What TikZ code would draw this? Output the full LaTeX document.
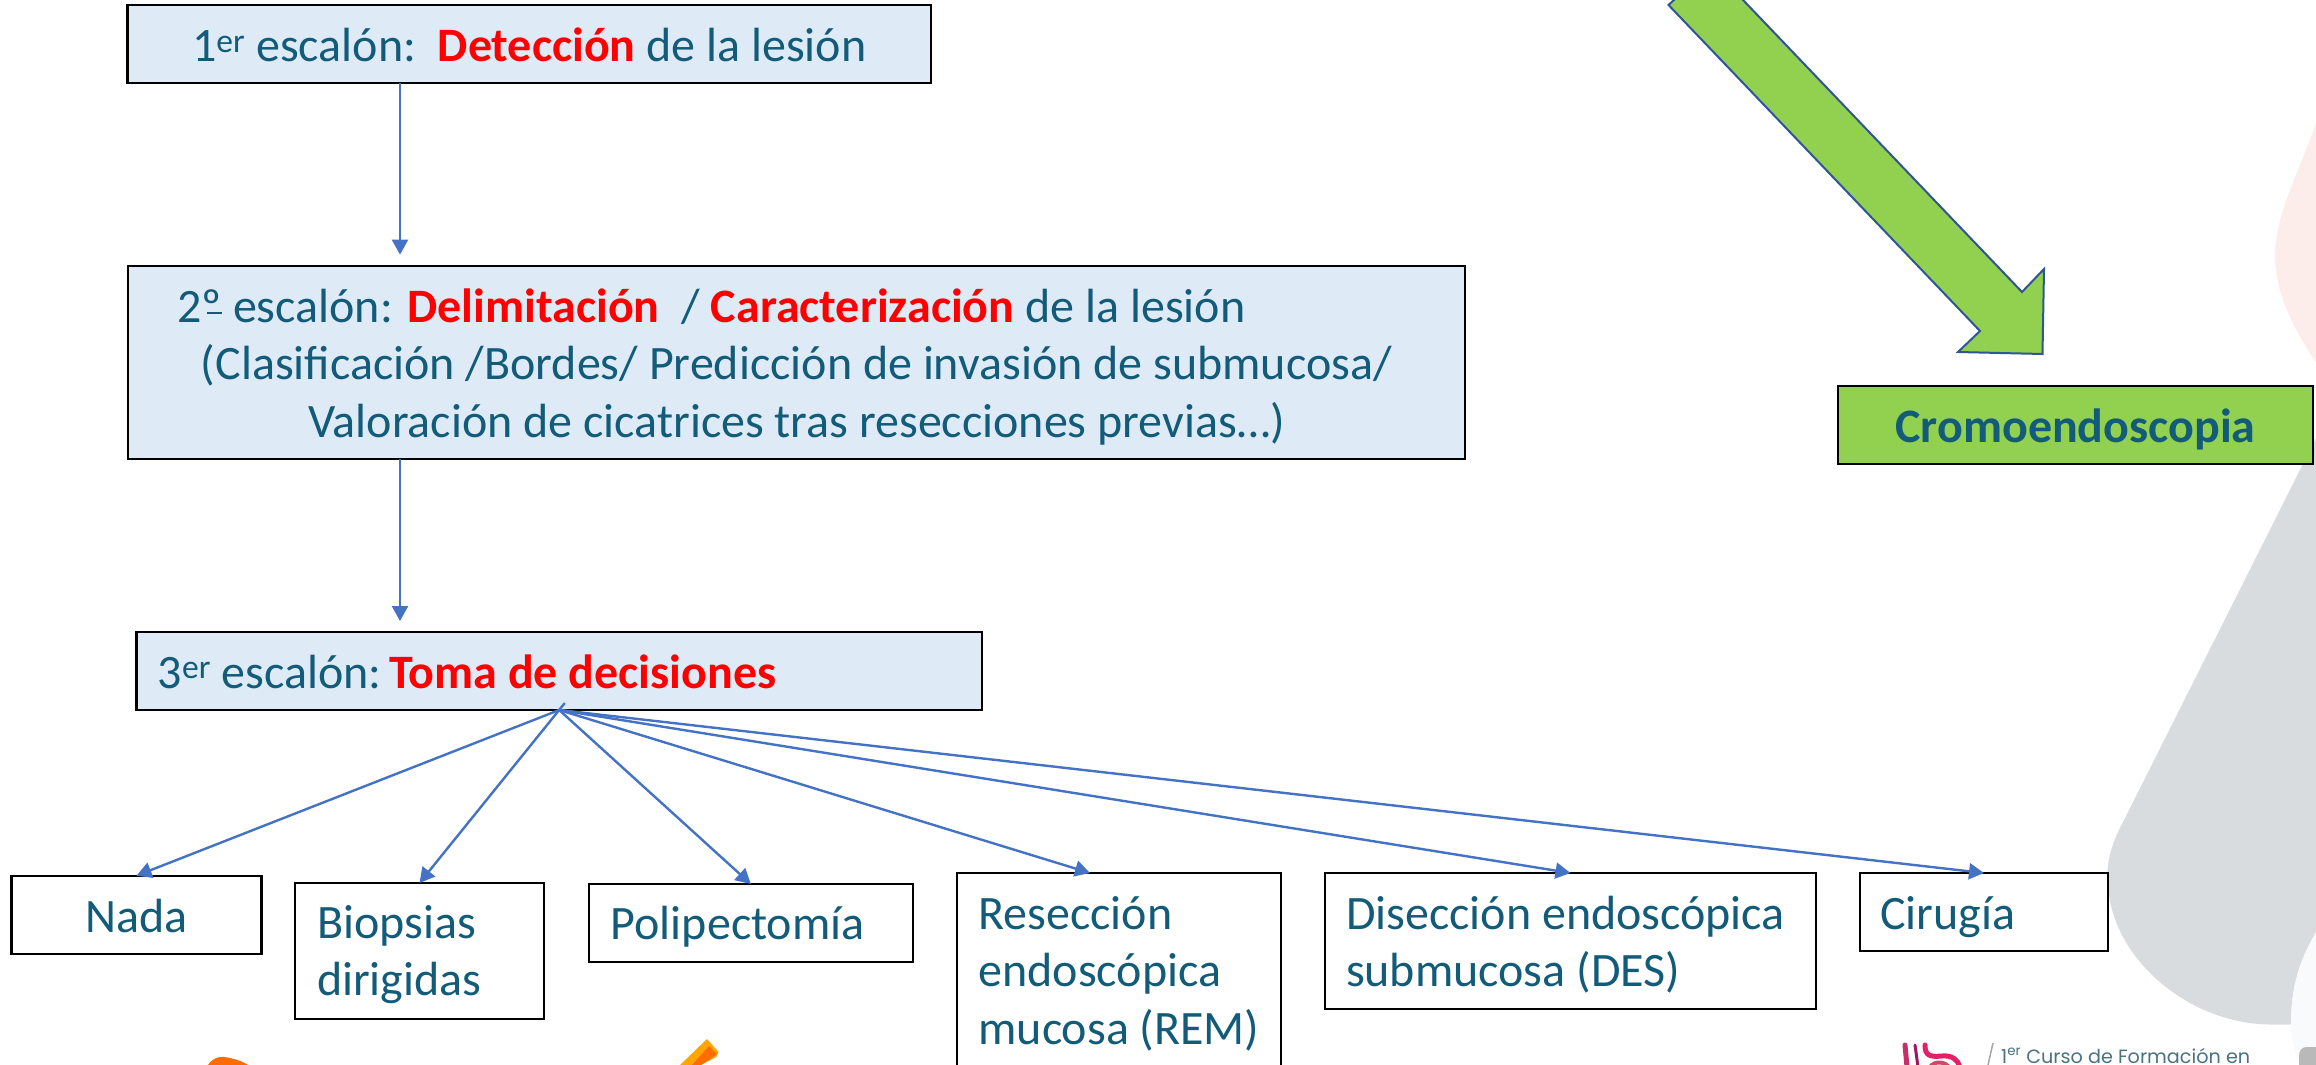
\documentclass[tikz,border=0pt]{standalone}
\usepackage{fontspec}
\setmainfont{Carlito}
\newfontfamily\logofont{Poppins}
\usetikzlibrary{arrows.meta}

\definecolor{inktext}{HTML}{125C7A}
\definecolor{stepfill}{HTML}{DEEAF6}
\definecolor{flowblue}{HTML}{4472C4}
\definecolor{chromo}{HTML}{92D050}
\definecolor{chromoedge}{HTML}{2F5597}
\definecolor{keyred}{HTML}{FF0000}
\definecolor{backgrey}{HTML}{D9DCDF}
\definecolor{backpink}{HTML}{FCECEA}
\definecolor{backpale}{HTML}{F9FAFC}
\definecolor{logotext}{HTML}{4A7280}

% Text block of a given width whose first baseline sits #2 pt above the node centre
\newcommand{\cellbody}[3]{\raisebox{\dimexpr #2pt-1.3pt\relax}[0pt][0pt]{\parbox[t]{#1pt}{\fontsize{48}{57.5}\selectfont #3}}}
\newcommand{\hot}[1]{\textbf{\color{keyred}#1}}

\tikzset{
  x=1pt, y=-1pt,
  framed/.style 2 args={rectangle, draw=black, line width=2.2pt, inner sep=0pt, outer sep=0pt,
    text=inktext, minimum width=#1pt, minimum height=#2pt},
  stepbox/.style 2 args={framed={#1}{#2}, fill=stepfill},
  choicebox/.style 2 args={framed={#1}{#2}, fill=white},
  flow/.style={draw=flowblue, line width=2.4pt, -{Triangle[length=15pt,width=16pt]}},
}

\begin{document}
\begin{tikzpicture}
  \clip (0,0) rectangle (2316,1065);
  \fill[white] (0,0) rectangle (2316,1065);

  % Decorative background shapes on the right
  \fill[backpink] (2316,123) .. controls (2300,170) and (2275,215) .. (2275,255)
    .. controls (2275,295) and (2295,330) .. (2316,363) -- cycle;
  \fill[backgrey] (2316,438) -- (2123,822)
    .. controls (2108,850) and (2106,870) .. (2108,885)
    .. controls (2112,960) and (2190,1024) .. (2270,1024.5)
    -- (2291,1024.5) .. controls (2291,985) and (2300,960) .. (2316,932) -- cycle;
  \fill[backpale] (2316,932) .. controls (2300,960) and (2291,985) .. (2291,1024.5)
    .. controls (2291,1040) and (2296,1055) .. (2300,1065) -- (2316,1065) -- cycle;
  \fill[gray!55] (2316,1047) -- (2307,1047) .. controls (2302,1047) and (2299,1050) .. (2299,1056)
    -- (2299,1065) -- (2316,1065) -- cycle;

  % Orange marks along the lower edge
  \fill[orange!85!red] (208,1065) .. controls (214,1056) and (222,1056) .. (230,1058)
    .. controls (238,1060) and (244,1062) .. (248,1065) -- cycle;
  \fill[orange!70!yellow] (707,1039) -- (718.6,1052) -- (716,1057) -- (701,1065) -- (680,1065) -- cycle;
  \fill[orange!85!red] (709,1046) -- (717,1054) -- (701,1065) -- (692,1065) -- cycle;

  % Course logo, lower right
  \draw[line width=5pt, color=magenta!70!red!80!black, line cap=round] (1905,1045) -- (1907,1067);
  \draw[line width=3pt, color=violet!70!red!80!gray, line cap=round] (1915,1045) -- (1918,1067);
  \draw[line width=5pt, color=magenta!60!red!90!gray, line cap=round] (1925,1045) .. controls (1925,1056) and (1930,1057) .. (1942,1056)
    .. controls (1952,1055) and (1958,1060) .. (1960,1067);
  \draw[line width=4pt, color=magenta!50!red!70!gray] (1930,1067) .. controls (1934,1061) and (1944,1061) .. (1949,1067);
  \draw[line width=1.5pt, color=gray!70] (1993,1043) -- (1988,1065);
  \node[anchor=base west, inner sep=0pt, text=logotext, font=\logofont\fontsize{19.2}{20}\selectfont] (course) at (2001,1063)
    {1\textsuperscript{er} Curso de Formación en};

  % Large diagonal arrow towards the chromoendoscopy box
  \draw[fill=chromo, draw=chromoedge, line width=2pt, line join=miter]
    (1668.5,5) -- (1710.5,-34) -- (2022,292) -- (2044,269) -- (2042.5,354) -- (1958,352) -- (1980,331) -- cycle;

  % Three-step column
  \node[stepbox={803.5}{78}] (first) at (529.3,44)
    {\cellbody{790}{-16}{\centering 1\textsuperscript{er} escalón:\ \ \hot{Detección} de la lesión}};
  \node[stepbox={1337}{193.3}] (second) at (796.5,362.3)
    {\cellbody{1320}{41.6}{\centering 2º\llap{\rule[8pt]{15pt}{2.5pt}} escalón: \hot{Delimitación}\ \ / \hot{Caracterización} de la lesión\mbox{}\hspace*{170pt}\mbox{}\\
      (Clasificación /Bordes/ Predicción de invasión de submucosa/\\
      Valoración de cicatrices tras resecciones previas…)}};
  \node[stepbox={845.5}{78}] (third) at (559.2,671)
    {\cellbody{803}{-15.7}{\raggedright\mbox{3\textsuperscript{er} escalón:\hspace{-7pt} \hot{Toma de decisiones}}}};

  % Treatment options
  \node[choicebox={250}{78}] (nada) at (136.5,914.7)
    {\cellbody{230}{-16}{\centering Nada}};
  \node[choicebox={249}{136}] (biopsias) at (419.5,951)
    {\cellbody{205}{14}{\raggedright Biopsias\\dirigidas}};
  \node[choicebox={323.6}{78}] (polip) at (750.8,923)
    {\cellbody{280}{-15}{\raggedright\mbox{Polipectomía}}};
  \node[choicebox={324}{202}] (rem) at (1119,974)
    {\cellbody{281}{46}{\raggedright\mbox{Resección}\\\mbox{endoscópica}\\\mbox{mucosa (REM)}}};
  \node[choicebox={491}{136}] (des) at (1570.5,941)
    {\cellbody{449}{13}{\raggedright\mbox{Disección endoscópica}\\\mbox{submucosa (DES)}}};
  \node[choicebox={248}{78}] (cirugia) at (1984,912)
    {\cellbody{208}{-16}{\raggedright Cirugía}};

  % Chromoendoscopy box
  \node[framed={475}{78}, fill=chromo] (cromo) at (2075.5,425)
    {\cellbody{460}{-15.7}{\centering\textbf{Cromoendoscopia}}};

  % Connectors
  \draw[flow] ([xshift=-129.3pt]first.south) -- ([xshift=-396.5pt,yshift=11pt]second.north);
  \draw[flow] ([xshift=-396.5pt]second.south) -- ([xshift=-159.2pt,yshift=11pt]third.north);
  \draw[flow] (third.south) -- (nada.north);
  \draw[flow] ([xshift=5.6pt,yshift=7pt]third.south) -- (biopsias.north);
  \draw[flow] (third.south) -- (polip.north);
  \draw[flow] (third.south) -- ([xshift=-29pt]rem.north);
  \draw[flow] (third.south) -- (des.north);
  \draw[flow] (third.south) -- (cirugia.north);
\end{tikzpicture}
\end{document}
